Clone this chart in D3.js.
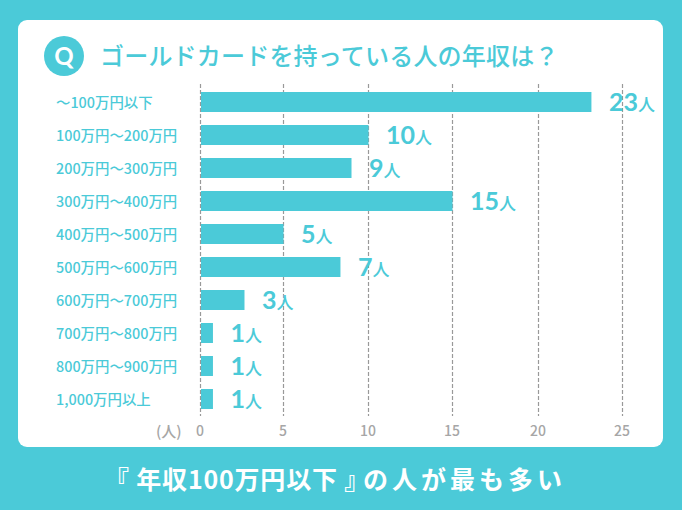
<!DOCTYPE html>
<html lang="ja">
<head>
<meta charset="utf-8">
<style>
  html, body { margin: 0; padding: 0; background: #4bcad8; }
  svg { display: block; }
  text { font-family: "Noto Sans CJK JP", "Noto Sans", sans-serif; }
</style>
<script src="https://cdn.jsdelivr.net/npm/d3@7"></script>
</head>
<body>
<script>
const categories = ["～100万円以下", "100万円～200万円", "200万円～300万円", "300万円～400万円", "400万円～500万円",
  "500万円～600万円", "600万円～700万円", "700万円～800万円", "800万円～900万円", "1,000万円以上"]
// what the labels say
const counts = [23, 10, 9, 15, 5, 7, 3, 1, 1, 1]
// how long the bars are actually drawn, read against the grid (they don't always agree with the labels)
const barLengths = [23.15, 10, 9, 15, 5, 8.35, 2.65, 0.75, 0.75, 0.75]
const xTicks = [0, 5, 10, 15, 20, 25]

const title = "ゴールドカードを持っている人の年収は？"
const summaryHead = "『 年収100万円以下 』"
const summaryTail = "の人が最も多い"

const width = 682
const height = 510
const teal = "#4bcad8"
const gray = "#a6a6a6"

const svg = d3.select("body").append("svg")
  .attr("width", width)
  .attr("height", height)

svg.append("rect")
  .attr("width", width).attr("height", height)
  .attr("fill", teal)

// white card
svg.append("rect")
  .attr("x", 18).attr("y", 20)
  .attr("width", 645).attr("height", 427)
  .attr("rx", 9)
  .attr("fill", "white")

// header
svg.append("circle")
  .attr("cx", 64).attr("cy", 56).attr("r", 20)
  .attr("fill", teal)

svg.append("text")
  .attr("x", 64).attr("y", 56)
  .attr("dy", "0.36em")
  .attr("text-anchor", "middle")
  .attr("fill", "white")
  .style("font-family", "Lato, sans-serif")
  .style("font-size", "24px")
  .style("font-weight", 700)
  .text("Q")

svg.append("text")
  .attr("x", 100).attr("y", 65)
  .attr("fill", teal)
  .style("font-size", "24px")
  .style("font-weight", 500)
  .style("letter-spacing", "0.2px")
  .text(title)

// grid is not quite even in the original, so the scale is piecewise
const x = d3.scaleLinear()
  .domain(xTicks)
  .range([200.5, 283.5, 368.5, 452.5, 538.5, 622.5])

const y = d3.scaleBand()
  .domain(categories)
  .range([85.5, 415.5])
  .paddingInner(13 / 33)
  .paddingOuter(6.5 / 33)

const axis = d3.axisBottom(x)
  .tickValues(xTicks)
  .tickSize(332)
  .tickPadding(10)
  .offset(0)
  .tickFormat(d3.format("d"))

const axisG = svg.append("g")
  .attr("transform", "translate(0,84)")
  .call(axis)

axisG.select(".domain").remove()
axisG.selectAll(".tick line")
  .attr("stroke", "#999")
  .attr("stroke-width", 1.2)
  .attr("stroke-dasharray", "4 2")
axisG.selectAll(".tick text")
  .attr("x", -0.5)
  .attr("fill", gray)
  .style("font-family", '"Noto Sans CJK JP", sans-serif')
  .style("font-size", "14px")
  .style("font-weight", 500)

svg.append("text")
  .attr("x", 156).attr("y", 437)
  .attr("fill", gray)
  .style("font-size", "15px")
  .style("font-weight", 500)
  .text("(人)")

// bars
svg.selectAll(".bar")
  .data(categories)
  .join("rect")
  .attr("class", "bar")
  .attr("x", x(0) + 0.5)
  .attr("y", d => y(d))
  .attr("width", (d, i) => x(barLengths[i]) - x(0) - 0.5)
  .attr("height", y.bandwidth())
  .attr("fill", teal)

// category labels
svg.selectAll(".cat")
  .data(categories)
  .join("text")
  .attr("class", "cat")
  .attr("x", 56)
  .attr("y", d => y(d) + y.bandwidth() / 2)
  .attr("dy", "0.42em")
  .attr("fill", teal)
  .style("font-size", "14.4px")
  .style("font-weight", 500)
  .text(d => d)

// value labels, big number + small 人
const valueLabels = svg.selectAll(".val")
  .data(categories)
  .join("text")
  .attr("class", "val")
  .attr("x", (d, i) => x(barLengths[i]) + 17.5)
  .attr("y", d => y(d) + y.bandwidth() / 2 + 9)
  .attr("fill", teal)

valueLabels.append("tspan")
  .style("font-family", "Lato, sans-serif")
  .style("font-size", "25px")
  .style("font-weight", 700)
  .text((d, i) => counts[i])

valueLabels.append("tspan")
  .style("font-size", "17px")
  .style("font-weight", 500)
  .text("人")

// bottom line, the kana part is tracked wider than the first part
const bottom = svg.append("text")
  .attr("y", 489)
  .attr("fill", "white")
  .style("font-size", "25px")
  .style("font-weight", 700)

bottom.append("tspan")
  .attr("x", 104)
  .style("letter-spacing", "0.8px")
  .text(summaryHead)

bottom.append("tspan")
  .attr("x", 363)
  .style("letter-spacing", "4px")
  .text(summaryTail)
</script>
</body>
</html>
